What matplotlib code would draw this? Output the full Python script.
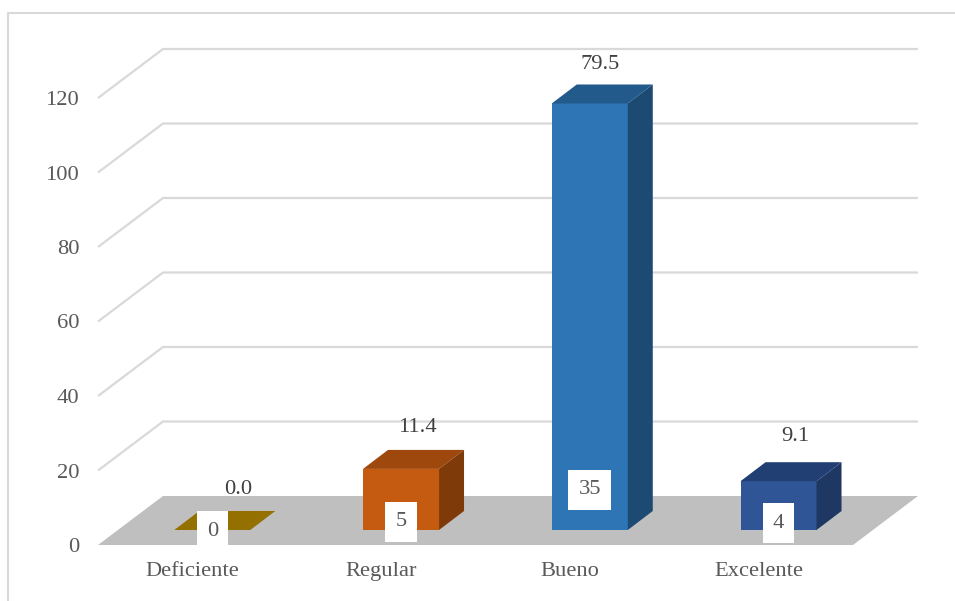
import matplotlib
matplotlib.use("Agg")
import matplotlib.pyplot as plt
from matplotlib.patches import Polygon
from matplotlib.lines import Line2D

categories = ["Deficiente", "Regular", "Bueno", "Excelente"]
counts = [0, 5, 35, 4]
percents = [0.0, 11.4, 79.5, 9.1]
percent_labels = ["0.0", "11.4", "79.5", "9.1"]
y_ticks = [0, 20, 40, 60, 80, 100, 120]

front_colors = ["#947000", "#C55A11", "#2E75B6", "#2F5597"]
top_colors = ["#947000", "#9E480E", "#225A8C", "#223F73"]
side_colors = ["#947000", "#7F3A0A", "#1C4A73", "#1E3763"]
# pixel offsets of the labels relative to the bars
count_dy = [-1, 8, 40, 7]
pct_dx = [26, 16, 10, 17]
pct_dy = [40, 41, 39, 45]

W, H = 955, 601
plt.rcParams["font.family"] = ["Liberation Serif", "DejaVu Serif"]
TXT = "#595959"
FS = 16.2

fig = plt.figure(figsize=(W / 100, H / 100), dpi=100)
L, R, Y0, Y120 = 98, 853, 545, 98
ax = fig.add_axes([L / W, (H - Y0) / H, (R - L) / W, (Y0 - Y120) / H])
ax.set_xlim(-0.5, 3.5)
ax.set_ylim(0, 120)
px_x = (R - L) / 4
px_y = (Y0 - Y120) / 120
depth_x = 65 / px_x
depth_y = 49 / px_y

# outer frame
fig.add_artist(Line2D([8 / W, 8 / W, 1], [0, 1 - 13 / H, 1 - 13 / H],
                      color="#D9D9D9", lw=1.5, transform=fig.transFigure))

# floor
ax.add_patch(Polygon([(-0.5, 0), (3.5, 0), (3.5 + depth_x, depth_y), (-0.5 + depth_x, depth_y)],
                     closed=True, fc="#BFBFBF", ec="none", clip_on=False, zorder=1))
# walls / gridlines
for t in y_ticks[1:]:
    ax.plot([-0.5, -0.5 + depth_x, 3.5 + depth_x], [t, t + depth_y, t + depth_y],
            color="#D9D9D9", lw=1.6, clip_on=False, zorder=1, solid_capstyle="butt")

# bars
d0 = 15 / 49
bw = 76 / px_x
dbx, dby = 25 / px_x, 19 / px_y
base = d0 * depth_y
heights = [c + p for c, p in zip(counts, percents)]
xs = [i + d0 * depth_x for i in range(len(categories))]
ax.bar(xs, heights, width=bw, bottom=base, color=front_colors, clip_on=False, zorder=3)
for x, h, tc, sc in zip(xs, heights, top_colors, side_colors):
    l, r, t = x - bw / 2, x + bw / 2, base + h
    ax.add_patch(Polygon([(l, t), (r, t), (r + dbx, t + dby), (l + dbx, t + dby)],
                         closed=True, fc=tc, ec="none", clip_on=False, zorder=3))
    if h > 0:
        ax.add_patch(Polygon([(r, base), (r + dbx, base + dby), (r + dbx, t + dby), (r, t)],
                             closed=True, fc=sc, ec="none", clip_on=False, zorder=3))

# labels
for x, h, c, cdy, lab, dx, dy in zip(xs, heights, counts, count_dy, percent_labels, pct_dx, pct_dy):
    ax.annotate(str(c), (x, base), xytext=(0, cdy * 0.72), textcoords="offset points",
                ha="center", va="center", fontsize=FS, color=TXT, zorder=5,
                bbox=dict(boxstyle="square,pad=0.45", fc="white", ec="none"))
    ax.annotate(lab, (x, base + h), xytext=(dx * 0.72, dy * 0.72), textcoords="offset points",
                ha="center", va="center", fontsize=FS, color="#404040", zorder=5)

ax.set_yticks(y_ticks)
ax.set_xticks(range(len(categories)))
ax.set_xticklabels(categories)
ax.tick_params(axis="both", length=0, labelsize=FS, labelcolor=TXT)
ax.tick_params(axis="y", pad=13.5)
ax.tick_params(axis="x", pad=12)
for s in ax.spines.values():
    s.set_visible(False)
ax.patch.set_visible(False)

fig.savefig("out.png", dpi=100, facecolor="white")
